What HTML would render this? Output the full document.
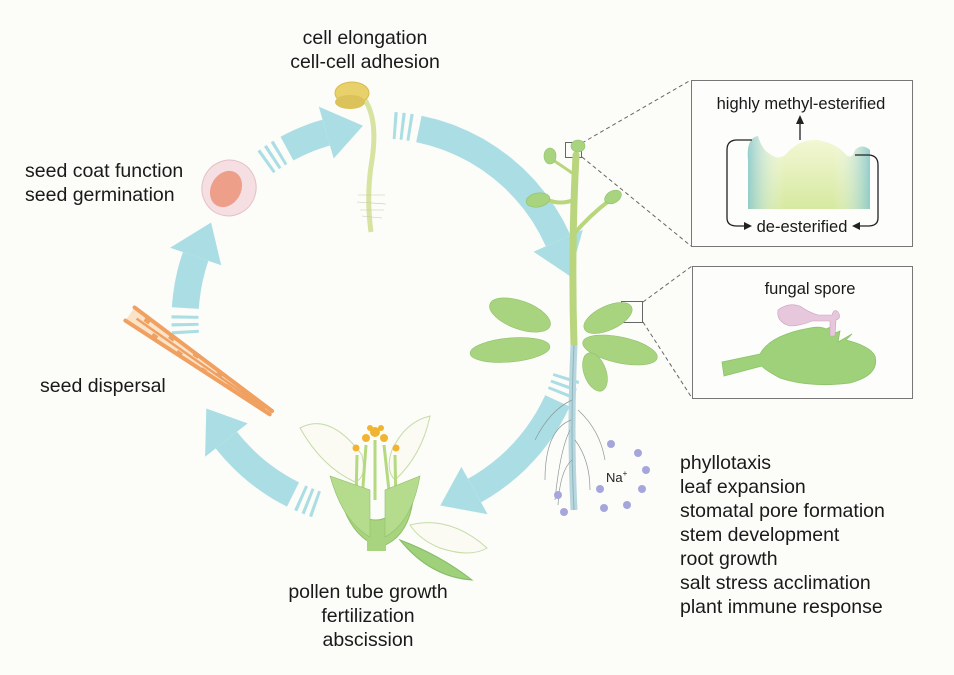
<!DOCTYPE html>
<html><head><meta charset="utf-8"><style>
html,body{margin:0;padding:0;background:#fcfcf9;}
svg{display:block;font-family:"Liberation Sans",sans-serif;}
</style></head><body>
<svg id="s" width="954" height="675" viewBox="0 0 954 675" xmlns="http://www.w3.org/2000/svg">
<defs>
<linearGradient id="mer" x1="0" y1="0" x2="0" y2="1"><stop offset="0" stop-color="#f4f8d8"/><stop offset="1" stop-color="#d6e9a0"/></linearGradient>
<linearGradient id="mer2" x1="0" y1="0" x2="1" y2="0"><stop offset="0" stop-color="#7fc4cf" stop-opacity=".8"/><stop offset=".3" stop-color="#fff" stop-opacity="0"/><stop offset=".7" stop-color="#fff" stop-opacity="0"/><stop offset="1" stop-color="#7fc4cf" stop-opacity=".8"/></linearGradient>
</defs>
<g id="arrows"></g>

<g font-size="19.5" fill="#1a1a1a">
<text x="365" y="44" text-anchor="middle">cell elongation</text>
<text x="365" y="68" text-anchor="middle">cell-cell adhesion</text>
<text x="25" y="177">seed coat function</text>
<text x="25" y="201">seed germination</text>
<text x="40" y="392">seed dispersal</text>
<text x="368" y="598" text-anchor="middle">pollen tube growth</text>
<text x="368" y="622" text-anchor="middle">fertilization</text>
<text x="368" y="646" text-anchor="middle">abscission</text>
<text x="680" y="469">phyllotaxis</text>
<text x="680" y="493">leaf expansion</text>
<text x="680" y="517">stomatal pore formation</text>
<text x="680" y="541">stem development</text>
<text x="680" y="565">root growth</text>
<text x="680" y="589">salt stress acclimation</text>
<text x="680" y="613">plant immune response</text>
</g>

<rect x="691.5" y="80.5" width="221" height="166" fill="#fdfdfb" stroke="#777" stroke-width="1"/>
<rect x="692.5" y="266.5" width="220" height="132" fill="#fdfdfb" stroke="#777" stroke-width="1"/>
<g stroke="#666" stroke-dasharray="4,3" stroke-width="1">
<line x1="582" y1="143" x2="691" y2="80"/><line x1="582" y1="157" x2="691" y2="246"/>
<line x1="643" y1="302" x2="692" y2="266"/><line x1="643" y1="322" x2="692" y2="398"/>
</g>
<rect x="565.5" y="142.5" width="16" height="15" fill="none" stroke="#666"/>
<rect x="621.5" y="301.5" width="21" height="21" fill="none" stroke="#666"/>

<path d="M748,209 L748,160 Q746,138 758,136 Q762,150 770,154 Q780,162 788,152 Q800,139 818,140 Q838,144 846,155 Q852,160 855,150 Q862,143 870,150 L870,209 Z" fill="url(#mer)"/>
<path d="M748,209 L748,160 Q746,138 758,136 Q762,150 770,154 Q780,162 788,152 Q800,139 818,140 Q838,144 846,155 Q852,160 855,150 Q862,143 870,150 L870,209 Z" fill="url(#mer2)"/>
<g font-size="16.5" fill="#1a1a1a">
<text x="801" y="109" text-anchor="middle">highly methyl-esterified</text>
<text x="802" y="232" text-anchor="middle">de-esterified</text>
<text x="810" y="294" text-anchor="middle">fungal spore</text>
</g>
<g stroke="#222" stroke-width="1.3" fill="none">
<line x1="800" y1="140" x2="800" y2="122"/>
<path d="M752,140 L737,140 Q727,140 727,150 L727,218 Q727,226 737,226 L745,226"/>
<path d="M855,155 L868,155 Q878,155 878,165 L878,218 Q878,226 868,226 L858,226"/>
</g>
<polygon points="800,115 796,124 804,124" fill="#222"/>
<polygon points="752,226 744,222 744,230" fill="#222"/>
<polygon points="852,226 860,222 860,230" fill="#222"/>

<path d="M722,362 L760,354 Q770,335 810,328 Q820,326 826,329 L833,326 L830,335 L840,331 L838,342 L852,334 L846,340 Q870,346 875,356 Q880,375 850,383 Q810,388 780,378 Q765,370 762,366 L724,376 Z" fill="#9fd07a" stroke="#8bc46a" stroke-width=".8"/>
<path d="M778,310 Q788,302 800,306 Q808,312 818,315 L832,315 Q834,308 838,312 Q842,318 836,320 L835,336 L830,336 L830,321 L812,321 Q800,326 790,326 Q776,322 778,310 Z" fill="#e7c7dc" stroke="#c9a4bd" stroke-width=".6"/>

<g>
<path d="M576,155 Q571,250 574,345" stroke="#b9d67e" stroke-width="7" fill="none" stroke-linecap="round"/>
<path d="M574,345 Q570,430 574,510" stroke="#b7d6dd" stroke-width="7" fill="none"/>
<path d="M574,345 Q570,430 574,510" stroke="#8fb6bf" stroke-width="1" fill="none"/>
<g stroke="#8a9a9a" stroke-width=".7" fill="none">
<path d="M572,400 Q550,410 535,440"/><path d="M571,420 Q545,430 545,480"/><path d="M570,430 Q560,450 555,500"/>
<path d="M578,410 Q600,430 605,460"/><path d="M575,440 Q590,460 590,490"/><path d="M572,460 Q560,470 558,505"/>
</g>
<path d="M574,200 Q560,205 548,200" stroke="#b9d67e" stroke-width="4" fill="none"/>
<path d="M573,235 Q590,215 610,200" stroke="#b9d67e" stroke-width="4" fill="none"/>
<path d="M575,175 Q565,168 550,158" stroke="#b9d67e" stroke-width="3" fill="none"/>
<g fill="#a9d47f" stroke="#8fc06a" stroke-width=".6">
<ellipse cx="538" cy="200" rx="12" ry="7" transform="rotate(-10 538 200)"/>
<ellipse cx="550" cy="156" rx="6" ry="8"/><ellipse cx="578" cy="146" rx="7" ry="6"/>
<ellipse cx="613" cy="197" rx="9" ry="6" transform="rotate(-30 613 197)"/>
<ellipse cx="520" cy="315" rx="32" ry="14" transform="rotate(20 520 315)"/>
<ellipse cx="608" cy="318" rx="26" ry="12" transform="rotate(-25 608 318)"/>
<ellipse cx="510" cy="350" rx="40" ry="12" transform="rotate(-5 510 350)"/>
<ellipse cx="620" cy="350" rx="38" ry="13" transform="rotate(12 620 350)"/>
<ellipse cx="595" cy="372" rx="11" ry="20" transform="rotate(-20 595 372)"/>
</g>
<g fill="#a6a6dd">
<circle cx="611" cy="444" r="4"/><circle cx="638" cy="453" r="4"/><circle cx="646" cy="470" r="4"/>
<circle cx="600" cy="489" r="4"/><circle cx="642" cy="489" r="4"/><circle cx="558" cy="495" r="4"/>
<circle cx="604" cy="508" r="4"/><circle cx="627" cy="505" r="4"/><circle cx="564" cy="512" r="4"/>
</g>
<text x="606" y="482" font-size="13" fill="#222">Na<tspan font-size="8" dy="-6">+</tspan></text>
</g>

<ellipse cx="229" cy="188" rx="27" ry="28" fill="#f6dfe2" stroke="#e5bfc6" transform="rotate(20 229 188)"/>
<ellipse cx="226" cy="189" rx="15" ry="19" fill="#ee9f8a" transform="rotate(30 226 189)"/>

<path d="M365,100 Q378,120 372,160 Q366,195 371,232" stroke="#d7e3a1" stroke-width="5" fill="none"/>
<g stroke="#c8c8a8" stroke-width=".6">
<line x1="358" y1="195" x2="385" y2="195"/><line x1="357" y1="202" x2="386" y2="204"/><line x1="360" y1="210" x2="384" y2="210"/><line x1="362" y1="216" x2="382" y2="218"/>
</g>
<ellipse cx="352" cy="93" rx="17" ry="11" fill="#e8d06a" stroke="#d8bb50"/>
<ellipse cx="350" cy="102" rx="15" ry="7" fill="#dcc25a"/>

<!-- seed pod -->
<g transform="translate(130,314) rotate(35)">
<path d="M0,-9 L165,-4 Q178,0 165,4 L0,9 Z" fill="#fbe3c8"/>
<g stroke="#f0a060" stroke-width="4" fill="none" stroke-linecap="round">
<line x1="0" y1="-8" x2="172" y2="-2"/><line x1="0" y1="8" x2="172" y2="2"/>
</g>
<line x1="8" y1="0" x2="165" y2="0" stroke="#f0a060" stroke-width="2.5"/>
<g fill="#f0a060">
<rect x="15" y="-6" width="6" height="4"/><rect x="30" y="2" width="6" height="4"/><rect x="45" y="-6" width="6" height="4"/><rect x="60" y="2" width="6" height="4"/><rect x="75" y="-6" width="6" height="4"/><rect x="90" y="2" width="6" height="4"/><rect x="105" y="-5" width="6" height="4"/><rect x="120" y="1.5" width="6" height="3.5"/><rect x="135" y="-4.5" width="6" height="3.5"/><rect x="148" y="1" width="6" height="3"/>
</g>
</g>

<g>
<path d="M300,428 Q330,412 362,455 Q367,478 355,482 Q322,467 300,428 Z" fill="#fbfbf3" stroke="#c4dca8"/>
<path d="M430,416 Q422,455 395,480 Q385,470 392,450 Q405,422 430,416 Z" fill="#fbfbf3" stroke="#c4dca8"/>
<path d="M410,525 Q450,515 487,548 Q470,558 440,548 Q420,540 410,525 Z" fill="#fbfbf3" stroke="#c4dca8"/>
<path d="M400,540 Q440,555 472,580 Q430,577 400,540 Z" fill="#9fd07a" stroke="#86bb66"/>
<g stroke="#b5d97f" stroke-width="3"><line x1="375" y1="440" x2="375" y2="500"/><line x1="366" y1="445" x2="362" y2="500"/><line x1="384" y1="445" x2="390" y2="500"/><line x1="357" y1="455" x2="356" y2="500"/><line x1="395" y1="455" x2="396" y2="505"/></g>
<g fill="#f1b431"><circle cx="375" cy="432" r="5"/><circle cx="366" cy="438" r="4"/><circle cx="384" cy="438" r="4"/><circle cx="356" cy="448" r="3.5"/><circle cx="396" cy="448" r="3.5"/><circle cx="370" cy="428" r="3"/><circle cx="381" cy="428" r="3"/></g>
<path d="M338,488 Q348,537 380,547 Q412,537 414,488 Q395,520 376,520 Q355,520 338,488 Z" fill="#a9d47f" stroke="#8fc06a"/>
<path d="M330,476 Q343,522 370,537 L370,490 Z" fill="#b5dc8c" stroke="#8fc06a" stroke-width=".6"/>
<path d="M420,476 Q412,522 385,537 L385,490 Z" fill="#b5dc8c" stroke="#8fc06a" stroke-width=".6"/>
<rect x="367" y="540" width="19" height="11" fill="#a9d47f"/>
</g>
</svg>
<script>
(function(){
var cx=380,cy=320,R=195,W=27,g=document.getElementById('arrows');
function p(a,r){a=a*Math.PI/180;return [cx+r*Math.cos(a),cy+r*Math.sin(a)];}
function band(a0,a1){
 var n=12,pts=[],i;
 for(i=0;i<=n;i++)pts.push(p(a0+(a1-a0)*i/n,R+W/2));
 for(i=n;i>=0;i--)pts.push(p(a0+(a1-a0)*i/n,R-W/2));
 var e=document.createElementNS('http://www.w3.org/2000/svg','polygon');
 e.setAttribute('points',pts.map(function(q){return q[0].toFixed(1)+','+q[1].toFixed(1)}).join(' '));
 e.setAttribute('fill','#abdee4');g.appendChild(e);
}
function arrow(a0,a1){
 var s=0.9;
 for(var k=0;k<3;k++){band(a0+k*2.2,a0+k*2.2+s);}
 var st=a0+7.5, he=a1-11;
 band(st,he);
 var b1=p(he,R+W),b2=p(he,R-W),t=p(a1,R);
 var e=document.createElementNS('http://www.w3.org/2000/svg','polygon');
 e.setAttribute('points',[b1,t,b2].map(function(q){return q[0].toFixed(1)+','+q[1].toFixed(1)}).join(' '));
 e.setAttribute('fill','#abdee4');g.appendChild(e);
}
arrow(176,210);arrow(234,265);arrow(274,347);arrow(17,72);arrow(109,153);
})();
</script>
</body></html>
